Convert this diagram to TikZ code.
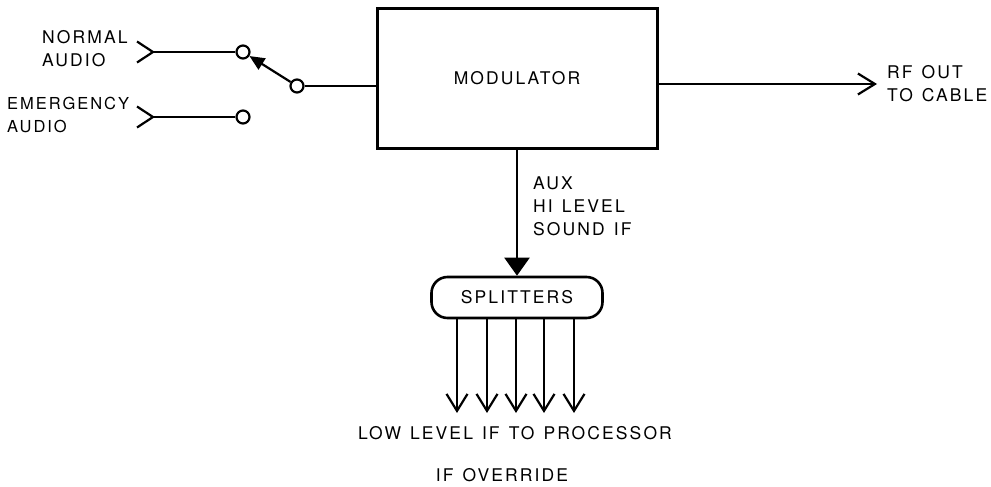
\documentclass[tikz,border=0pt]{standalone}
\usepackage{fontspec}
\setmainfont{TeX Gyre Heros}[LetterSpace=12, WordSpace=1.3]
\usepackage{tikz}
\usetikzlibrary{positioning,arrows.meta}

\begin{document}
\begin{tikzpicture}[
  x=1pt, y=-1pt,
  font=\fontsize{17.5pt}{23pt}\selectfont,
  every node/.style={inner sep=0pt, font=\fontsize{17.5pt}{23pt}\selectfont},
  modbox/.style  ={rectangle, draw, line width=3pt, minimum width=280pt, minimum height=139pt},
  splitbox/.style={rectangle, rounded corners=16pt, draw, line width=2.6pt, minimum width=171pt, minimum height=41pt},
  term/.style    ={circle, draw, line width=2.2pt, fill=white, minimum size=13pt},
  lbl/.style     ={align=left},
  wire/.style    ={line width=2.2pt},
  flowv/.style   ={-{Straight Barb[length=17pt,width=21pt]}, line width=2.2pt},
  flowfill/.style={-{Triangle[length=18pt,width=25pt]}, line width=2.2pt},
  lever/.style   ={-{Triangle[length=15pt,width=13pt]}, line width=2.2pt}
]
\useasboundingbox (0,0) rectangle (991,487);

\node[modbox] (mod) at (517,78.5) {MODULATOR};
\node[splitbox] (split) at (517,297.5) {SPLITTERS};

\node[term] (swA) at (243,52) {};
\node[term] (swB) at (297,86) {};
\node[term] (swE) at (243,117) {};
\coordinate (njack) at (153,52);
\coordinate (ejack) at (153,117);

\node[lbl, anchor=west] (nlab) at (42,48.5) {NORMAL\\AUDIO};
\node[lbl, anchor=west, font=\fontsize{16.5pt}{23pt}\selectfont] (elab) at (7,114.5) {EMERGENCY\\AUDIO};
\node[lbl, anchor=west] (auxlab) at (533,206) {AUX\\HI LEVEL\\SOUND IF};
\node[lbl, anchor=west] (rflab) at (887,84) {RF OUT\\TO CABLE};
\node (lowlab) at (515,433) {LOW LEVEL IF TO PROCESSOR};
\node (ovlab) at (502,475) {IF OVERRIDE};
\coordinate (lowtop) at (515,413);

% input jacks and the selector switch
\draw[wire] (njack) ++(-16,-10.5) -- (njack) -- ++(-16,10.5);
\draw[wire] (njack) -- (swA);
\draw[wire] (ejack) ++(-16,-10.5) -- (ejack) -- ++(-16,10.5);
\draw[wire] (ejack) -- (swE);
\draw[lever] (swB) -- (swA);
\draw[wire] (swB) -- (swB -| mod.west);

\draw[flowv] (mod.east |- rflab.west) -- ([xshift=-10pt]rflab.west);
\draw[flowfill] (mod.south) -- (split.north);

% one arrow per splitter output
\foreach \x in {457,487,516,544,574}
  \draw[flowv] (\x,0 |- split.south) -- (\x,0 |- lowtop);

\end{tikzpicture}
\end{document}
